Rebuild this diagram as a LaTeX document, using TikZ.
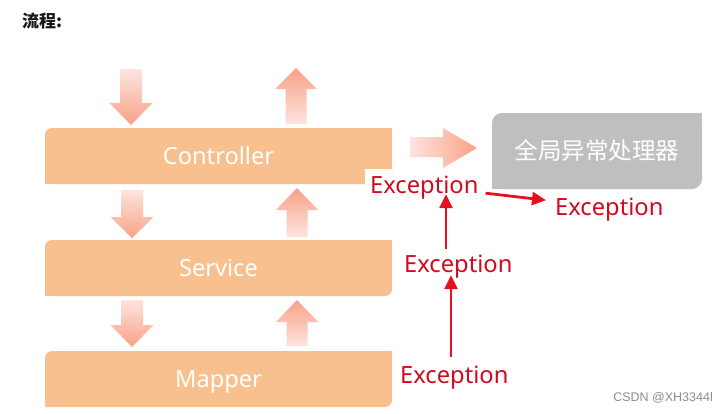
\documentclass[tikz,border=0pt]{standalone}
\usepackage{fontspec}
\setmainfont{Noto Sans}
\newfontfamily\cjk{Noto Sans CJK SC}
\newfontfamily\libsans{Liberation Sans}
\usetikzlibrary{arrows.meta}
\definecolor{boxor}{HTML}{F9C08F}
\definecolor{boxgray}{HTML}{BFBFBF}
\definecolor{exred}{HTML}{D10A1E}
\definecolor{arrred}{HTML}{E8101E}
\definecolor{arlight}{HTML}{FDE4DE}
\definecolor{ardark}{HTML}{F9A186}
\definecolor{wmgray}{HTML}{8C8C8C}
\newcommand\fatdown[4]{%
  \shade[top color=arlight, bottom color=ardark]
    (#1-11,#2) -- (#1+11,#2) -- (#1+11,#3) -- (#1+21.5,#3) -- (#1,#4)
    -- (#1-21.5,#3) -- (#1-11,#3) -- cycle;}
\newcommand\fatup[4]{%
  \shade[top color=ardark, bottom color=arlight]
    (#1,#2) -- (#1+21,#3) -- (#1+10.5,#3) -- (#1+10.5,#4) -- (#1-10.5,#4)
    -- (#1-10.5,#3) -- (#1-21,#3) -- cycle;}
\begin{document}
\begin{tikzpicture}[x=1pt,y=-1pt,
  layer/.style={fill=boxor, text=white, minimum width=347pt, minimum height=56pt,
    rounded corners=7pt, inner sep=0pt, text height=16pt, text depth=0pt,
    font=\fontsize{23.6}{28}\selectfont},
  handler/.style={fill=boxgray, text=white, minimum width=210pt, minimum height=76pt,
    rounded corners=10pt, inner sep=0pt, text height=20pt, text depth=3pt,
    font=\cjk\fontsize{23.5}{28}\selectfont},
  exc/.style={text=exred, inner sep=0pt, text height=16pt, text depth=5pt,
    anchor=base west, font=\fontsize{23.7}{28}\selectfont},
  redarr/.style={draw=arrred, line width=2.8pt, -{Triangle[length=14pt,width=13pt]}}
]
\useasboundingbox (0,0) rectangle (726,413);
\fill[white] (0,0) rectangle (726,413);

% title
\node[anchor=west, inner sep=0pt, text=black!90, font=\cjk\bfseries\fontsize{17}{20}\selectfont] (title) at (22,21.5) {流程:};

% layers
\node[layer] (ctrl) at (218.5,156) {Controller};
\fill[boxor] (ctrl.north east) rectangle ++(-10,10);
\fill[boxor] (ctrl.south west) rectangle ++(10,-10);
\node[layer] (svc) at (218.5,268) {Service};
\fill[boxor] (svc.north east) rectangle ++(-10,10);
\fill[boxor] (svc.south west) rectangle ++(10,-10);
\node[layer] (map) at (218.5,379) {Mapper};
\fill[boxor] (map.north east) rectangle ++(-10,10);
\fill[boxor] (map.south west) rectangle ++(10,-10);

% global handler
\node[handler] (geh) at (597,151) {全局异常处理器};
\fill[boxgray] (geh.north east) rectangle ++(-12,12);
\fill[boxgray] (geh.south west) rectangle ++(12,-12);

% fat arrows
\fatdown{131}{69}{103}{125}
\fatdown{132}{190}{217}{238}
\fatdown{132}{300}{325}{347}
\fatup{296}{68}{89}{124}
\fatup{297}{188}{210}{237}
\fatup{297}{300}{322}{346}
\shade[left color=arlight, right color=ardark]
  (410,137) -- (443,137) -- (443,128) -- (477,148) -- (443,168) -- (443,157) -- (410,157) -- cycle;

% white patch behind first label
\fill[white] (365,169) rectangle (ctrl.south east);

% exception labels
\node[exc] (e1) at (370,193) {Exception};
\node[exc] (e2) at (404,272.5) {Exception};
\node[exc] (e3) at (400,383) {Exception};
\node[exc] (e4) at (555,215.7) {Exception};

\coordinate (c1) at (446,0);
\coordinate (c2) at (451,0);
\draw[redarr, shorten <=7.5pt, shorten >=-4pt] (e2.north -| c1) -- (e1.south -| c1);
\draw[redarr, shorten <=10pt, shorten >=-2.5pt] (e3.north -| c2) -- (e2.south -| c2);
\draw[redarr] ([shift={(7,-5)}]e1.south east) -- ([shift={(-9,-10)}]e4.west);

% watermark text
\node[anchor=east, inner sep=0pt, text=wmgray, font=\libsans\fontsize{12.5}{14}\selectfont] (csdn) at (713,398) {CSDN @XH3344l};
\end{tikzpicture}
\end{document}
